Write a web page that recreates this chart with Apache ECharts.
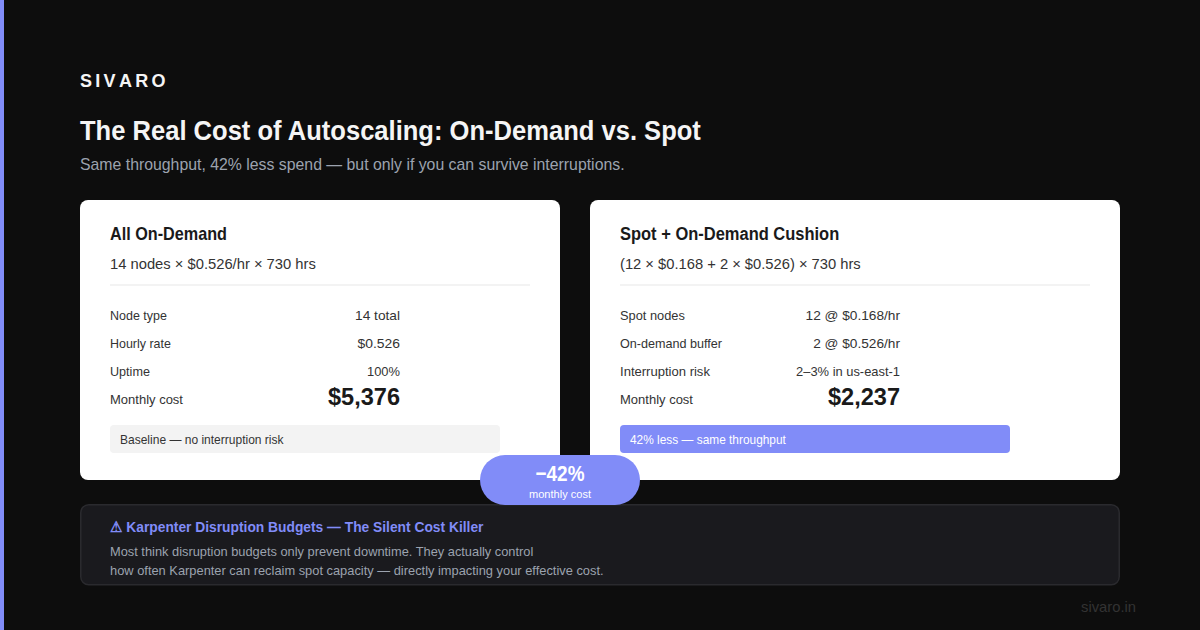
<!DOCTYPE html>
<html><head><meta charset="utf-8">
<style>html,body{margin:0;padding:0;background:#0d0d0d}#c{width:1200px;height:630px}</style>
<script src="https://cdn.jsdelivr.net/npm/echarts@6/dist/echarts.min.js"></script>
</head><body><div id="c"></div>
<script>
const brand = "SIVARO";
const title = "The Real Cost of Autoscaling: On-Demand vs. Spot";
const subtitle = "Same throughput, 42% less spend — but only if you can survive interruptions.";
const leftTitle = "All On-Demand";
const leftFormula = "14 nodes × $0.526/hr × 730 hrs";
const leftLabels = ["Node type","Hourly rate","Uptime","Monthly cost"];
const leftValues = ["14 total","$0.526","100%","$5,376"];
const leftNote = "Baseline — no interruption risk";
const rightTitle = "Spot + On-Demand Cushion";
const rightFormula = "(12 × $0.168 + 2 × $0.526) × 730 hrs";
const rightLabels = ["Spot nodes","On-demand buffer","Interruption risk","Monthly cost"];
const rightValues = ["12 @ $0.168/hr","2 @ $0.526/hr","2–3% in us-east-1","$2,237"];
const rightNote = "42% less — same throughput";
const badgeValue = "−42%";
const badgeLabel = "monthly cost";
const calloutTitle = "⚠ Karpenter Disruption Budgets — The Silent Cost Killer";
const calloutLines = ["Most think disruption budgets only prevent downtime. They actually control","how often Karpenter can reclaim spot capacity — directly impacting your effective cost."];
const footer = "sivaro.in";

const F = "'Liberation Sans', sans-serif";
const els = [];
const mc=document.createElement('canvas').getContext('2d');
function rect(x,y,w,h,r,fill,stroke,lw){els.push({type:'rect',shape:{x,y,width:w,height:h,r},style:{fill,stroke:stroke||null,lineWidth:stroke?(lw||1):0}});}
function text(x,y,s,size,weight,fill,align,w){
  const font=weight+' '+size+'px '+F; mc.font=font;
  const sx=w?w/mc.measureText(s).width:1;
  els.push({type:'text',x,y,scaleX:sx,scaleY:1,style:{text:s,font,fill,align:align||'left',verticalAlign:'middle'}});
}

rect(0,0,1200,630,0,'#0d0d0d');
rect(0,0,4,630,0,'#818cf8');
let bx=80;for(const ch of brand){text(bx,81,ch,18,700,'#f5f5f5');mc.font='700 18px '+F;bx+=mc.measureText(ch).width+3.3;}
text(80,131,title,28,700,'#f5f5f5','left',622);
text(80,164.5,subtitle,16,400,'#9ca3af','left',545);

function card(x,w,vr,t,tw,f,fw,labels,lw,values,vw,note,nw,noteFill,noteColor,noteW){
  rect(x,200,w,280,8,'#ffffff');
  text(x+30,234,t,18,700,'#1a1a1a','left',tw);
  text(x+30,264,f,14,400,'#333333','left',fw);
  rect(x+30,284,w-60,2,0,'#f3f3f3');
  const ys=[316,344,372,400];
  labels.forEach((l,i)=>{text(x+30,ys[i]-0.5,l,13,400,'#333333','left',lw[i]);
    if(i<3)text(vr,ys[i]-0.5,values[i],13,400,'#333333','right',vw[i]);
    else text(vr,396.5,values[i],24,700,'#1a1a1a','right',vw[i]);});
  rect(x+30,425,noteW,28,4,noteFill);
  text(x+40,440,note,12,400,noteColor,'left',nw);
}
card(80,480,400,leftTitle,117,leftFormula,206,leftLabels,[57,61,40,73],leftValues,[45,42.5,33,72],leftNote,163.5,'#f3f3f3','#333333',390);
card(590,530,900,rightTitle,219.5,rightFormula,241,rightLabels,[65,102,90,73],rightValues,[94.5,87,104,72],rightNote,156,'#818cf8','#ffffff',390);

rect(80.75,504.75,1038.5,80,8,'#1a1a1e','#2a2a2e',1.5);
text(110,527,calloutTitle,15,700,'#818cf8','left',373);
text(110,551.5,calloutLines[0],13,400,'#9ca3af','left',424);
text(110,570.5,calloutLines[1],13,400,'#9ca3af','left',494);
rect(480,455,160,50,25,'#818cf8');
text(560,472.5,badgeValue,22,700,'#ffffff','center',49);
text(560,494,badgeLabel,11,400,'#ffffff','center',62);
text(1136,607.5,footer,14,400,'#333333','right',55);

const chart=echarts.init(document.getElementById('c'),null,{renderer:'svg'});
chart.setOption({animation:false,backgroundColor:'#0d0d0d',graphic:{elements:els}});
</script></body></html>
